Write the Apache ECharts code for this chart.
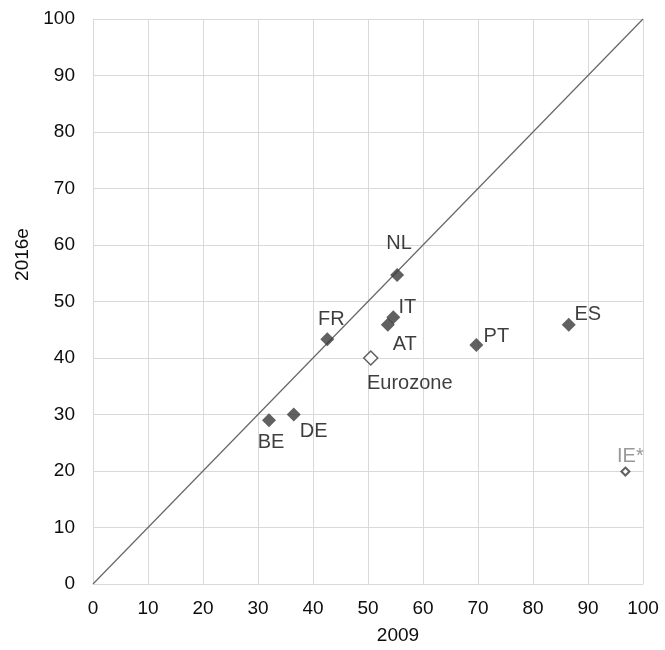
<!DOCTYPE html>
<html><head><meta charset="utf-8">
<script src="https://cdn.jsdelivr.net/npm/echarts@6/dist/echarts.min.js"></script>
<style>html,body{margin:0;padding:0;background:#fff}#c{width:665px;height:650px}</style>
</head><body><div id="c"></div>
<script>
var countries = ['NL','IT','AT','FR','PT','BE','DE','ES'];
var x2009 = [55.3, 54.6, 53.6, 42.6, 69.7, 32.0, 36.5, 86.5];
var y2016 = [54.7, 47.2, 45.9, 43.3, 42.3, 29.0, 30.0, 45.9];
var euroName = 'Eurozone', euroX = 50.5, euroY = 40.0;
var ieName = 'IE*', ieX = 96.8, ieY = 19.9;
var axisTicks = [0,10,20,30,40,50,60,70,80,90,100];

var labelOffset = {
  'NL':[2,-31],'IT':[14,-10],'AT':[17,20],'FR':[4,-20],'PT':[20,-9],
  'BE':[2,22],'DE':[20,17],'ES':[19,-10],'Eurozone':[39,25],'IE*':[5,-15]
};
var font = 'Liberation Sans, Arial, sans-serif';
function lbl(name, color){
  return {show:true, position:'inside', offset:labelOffset[name], formatter:name,
    color:color||'#0d0d0d', fontSize:20, fontFamily:font};
}
var mainData = countries.map(function(n,i){
  return {name:n, value:[x2009[i], y2016[i]], label:lbl(n)};
});
var axisCommon = {
  type:'value', min:0, max:100, interval:10,
  axisLine:{show:true, lineStyle:{color:'#d9d9d9'}},
  axisTick:{show:false},
  splitLine:{show:true, lineStyle:{color:'#d9d9d9', width:1}},
  axisLabel:{color:'#0d0d0d', fontSize:19, fontFamily:font,
    formatter:function(v){return axisTicks.indexOf(v)>=0 ? String(v) : '';}},
  nameTextStyle:{color:'#0d0d0d', fontSize:19, fontFamily:font}
};
var chart = echarts.init(document.getElementById('c'));
chart.setOption({
  animation:false,
  grid:{left:93, top:19, right:22, bottom:60, containLabel:false},
  xAxis:Object.assign({}, axisCommon, {name:'2009', nameLocation:'middle', nameGap:42,
    axisLabel:Object.assign({}, axisCommon.axisLabel, {margin:15}),
    nameTextStyle:Object.assign({}, axisCommon.nameTextStyle, {padding:[0,0,0,60]})}),
  yAxis:Object.assign({}, axisCommon, {name:'2016e', nameLocation:'middle', nameGap:52,
    axisLabel:Object.assign({}, axisCommon.axisLabel, {margin:18}),
    nameTextStyle:Object.assign({}, axisCommon.nameTextStyle, {padding:[0,0,0,94]})}),
  series:[
    {type:'line', data:[[0,0],[100,100]], symbol:'none', silent:true,
     lineStyle:{color:'#666666', width:1.2}, z:1},
    {type:'scatter', data:mainData, symbol:'diamond', symbolSize:14,
     itemStyle:{color:'#3a3a3a'}, z:3},
    {type:'scatter', data:[{name:euroName, value:[euroX, euroY], label:lbl(euroName)}],
     symbol:'diamond', symbolSize:14,
     itemStyle:{color:'#ffffff', borderColor:'#3a3a3a', borderWidth:1.5}, z:3},
    {type:'scatter', data:[{name:ieName, value:[ieX, ieY], label:lbl(ieName,'#808080')}],
     symbol:'diamond', symbolSize:8,
     itemStyle:{color:'#ffffff', borderColor:'#3a3a3a', borderWidth:2}, z:3}
  ]
});
</script></body></html>
